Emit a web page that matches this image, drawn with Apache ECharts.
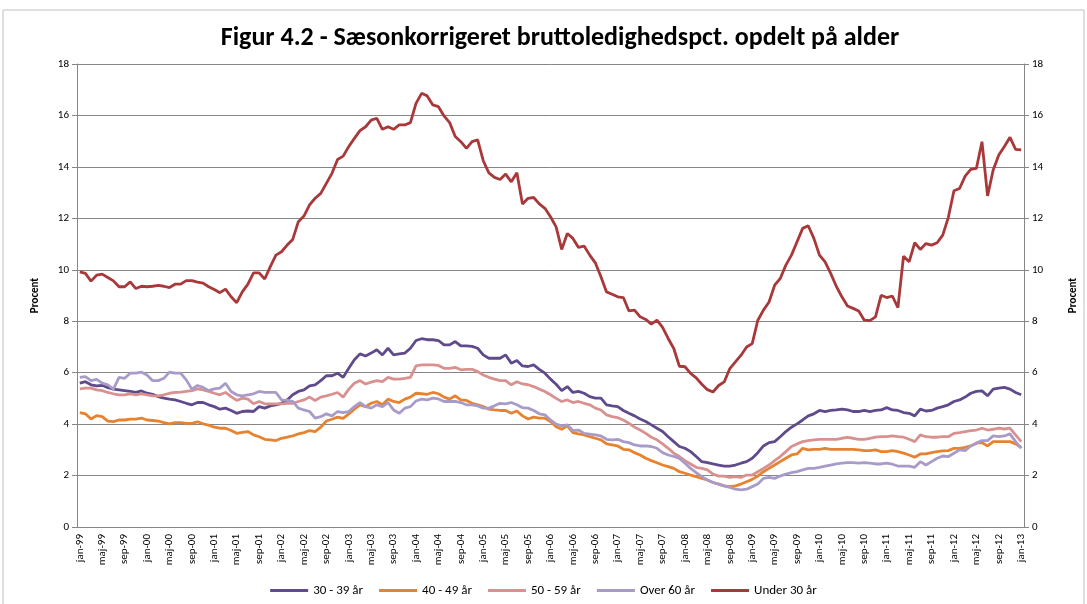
<!DOCTYPE html>
<html lang="da">
<head>
    <meta charset="UTF-8">
    <title>Figur 4.2</title>
    <script src="https://cdn.jsdelivr.net/npm/echarts@6/dist/echarts.min.js"></script>
    <style>
        html, body { margin: 0; padding: 0; background: #fff; }
        #chart { width: 1087px; height: 604px; }
    </style>
</head>
<body>
<div id="chart"></div>
<script type="text/javascript">
    // maanedlige tal jan-99 .. jan-13 (169 maaneder), aflaest fra figuren
    let monthNames = ['jan', 'feb', 'mar', 'apr', 'maj', 'jun', 'jul', 'aug', 'sep', 'okt', 'nov', 'dec'];
    let months = [];
    for (let y = 1999; y <= 2013; y++) {
        for (let m = 0; m < 12; m++) {
            if (y === 2013 && m > 0) break;
            months.push(monthNames[m] + '-' + String(y % 100).padStart(2, '0'));
        }
    }

    let age30to39 = [
        5.59, 5.65, 5.53, 5.49, 5.51, 5.42, 5.36, 5.33, 5.30, 5.27, 5.23, 5.29,
        5.20, 5.16, 5.07, 5.01, 4.97, 4.94, 4.88, 4.81, 4.75, 4.84, 4.84, 4.75,
        4.68, 4.58, 4.62, 4.53, 4.42, 4.49, 4.51, 4.49, 4.68, 4.62, 4.71, 4.75,
        4.81, 4.94, 5.14, 5.27, 5.33, 5.49, 5.53, 5.69, 5.88, 5.88, 5.98, 5.82,
        6.17, 6.50, 6.73, 6.65, 6.76, 6.89, 6.69, 6.95, 6.69, 6.73, 6.76, 6.95,
        7.25, 7.32, 7.28, 7.28, 7.25, 7.08, 7.08, 7.21, 7.04, 7.04, 7.02, 6.95,
        6.69, 6.56, 6.56, 6.56, 6.69, 6.37, 6.47, 6.26, 6.24, 6.30, 6.13, 5.98,
        5.75, 5.55, 5.30, 5.46, 5.23, 5.27, 5.20, 5.07, 5.01, 5.01, 4.75, 4.71,
        4.68, 4.53, 4.42, 4.32, 4.20, 4.10, 3.97, 3.84, 3.71, 3.51, 3.32, 3.13,
        3.06, 2.93, 2.74, 2.54, 2.50, 2.45, 2.41, 2.37, 2.37, 2.41, 2.48, 2.54,
        2.67, 2.89, 3.15, 3.28, 3.32, 3.51, 3.71, 3.88, 4.01, 4.16, 4.32, 4.40,
        4.53, 4.49, 4.53, 4.55, 4.58, 4.55, 4.49, 4.49, 4.53, 4.49, 4.53, 4.55,
        4.64, 4.55, 4.53, 4.45, 4.42, 4.32, 4.58, 4.51, 4.53, 4.62, 4.68, 4.75,
        4.88, 4.94, 5.05, 5.20, 5.27, 5.29, 5.10, 5.36, 5.40, 5.43, 5.36, 5.23,
        5.14
    ];

    let age40to49 = [
        4.45, 4.40, 4.20, 4.33, 4.29, 4.12, 4.10, 4.16, 4.16, 4.19, 4.19, 4.23,
        4.16, 4.14, 4.12, 4.06, 4.01, 4.06, 4.06, 4.03, 4.03, 4.09, 4.01, 3.96,
        3.88, 3.84, 3.84, 3.75, 3.64, 3.68, 3.71, 3.58, 3.51, 3.41, 3.39, 3.36,
        3.45, 3.49, 3.54, 3.62, 3.67, 3.75, 3.71, 3.88, 4.12, 4.19, 4.27, 4.22,
        4.40, 4.58, 4.75, 4.68, 4.81, 4.88, 4.75, 4.97, 4.88, 4.84, 4.97, 5.05,
        5.20, 5.18, 5.16, 5.23, 5.18, 5.05, 4.97, 5.10, 4.94, 4.92, 4.81, 4.75,
        4.68, 4.58, 4.55, 4.53, 4.53, 4.42, 4.51, 4.32, 4.20, 4.27, 4.23, 4.23,
        4.10, 3.90, 3.80, 3.93, 3.67, 3.62, 3.58, 3.51, 3.45, 3.39, 3.23, 3.19,
        3.15, 3.02, 3.00, 2.89, 2.80, 2.67, 2.58, 2.50, 2.41, 2.35, 2.28, 2.15,
        2.09, 2.02, 1.96, 1.89, 1.83, 1.73, 1.67, 1.60, 1.57, 1.60, 1.67, 1.76,
        1.85, 1.98, 2.15, 2.28, 2.41, 2.54, 2.67, 2.80, 2.84, 3.06, 3.00, 3.02,
        3.02, 3.06, 3.02, 3.02, 3.02, 3.02, 3.02, 3.00, 2.97, 2.97, 3.00, 2.93,
        2.93, 2.97, 2.93, 2.87, 2.80, 2.71, 2.84, 2.84, 2.89, 2.93, 2.96, 2.97,
        3.06, 3.06, 3.10, 3.15, 3.26, 3.28, 3.15, 3.32, 3.32, 3.32, 3.32, 3.23,
        3.10
    ];

    let age50to59 = [
        5.37, 5.40, 5.40, 5.33, 5.30, 5.23, 5.18, 5.14, 5.14, 5.18, 5.14, 5.18,
        5.14, 5.10, 5.10, 5.14, 5.20, 5.23, 5.24, 5.27, 5.30, 5.37, 5.33, 5.27,
        5.20, 5.14, 5.23, 5.07, 4.92, 5.01, 4.97, 4.79, 4.88, 4.79, 4.79, 4.79,
        4.79, 4.81, 4.81, 4.88, 4.94, 5.05, 4.92, 5.05, 5.10, 5.16, 5.23, 5.05,
        5.36, 5.59, 5.69, 5.56, 5.63, 5.69, 5.65, 5.82, 5.75, 5.75, 5.78, 5.82,
        6.26, 6.30, 6.30, 6.30, 6.28, 6.17, 6.17, 6.21, 6.11, 6.13, 6.13, 6.04,
        5.91, 5.82, 5.75, 5.69, 5.69, 5.53, 5.65, 5.56, 5.53, 5.46, 5.36, 5.27,
        5.14, 5.00, 4.88, 4.94, 4.84, 4.88, 4.81, 4.75, 4.62, 4.55, 4.36, 4.29,
        4.25, 4.16, 4.03, 3.88, 3.77, 3.64, 3.49, 3.39, 3.23, 3.06, 2.87, 2.74,
        2.58, 2.45, 2.32, 2.28, 2.22, 2.06, 1.98, 1.98, 1.93, 1.96, 1.93, 2.02,
        2.02, 2.15, 2.28, 2.41, 2.58, 2.74, 2.93, 3.13, 3.23, 3.32, 3.36, 3.39,
        3.41, 3.41, 3.41, 3.41, 3.45, 3.48, 3.45, 3.41, 3.41, 3.45, 3.49, 3.51,
        3.51, 3.54, 3.51, 3.49, 3.41, 3.32, 3.58, 3.51, 3.49, 3.49, 3.51, 3.51,
        3.64, 3.67, 3.71, 3.75, 3.77, 3.84, 3.77, 3.80, 3.84, 3.81, 3.84, 3.58,
        3.32
    ];

    let over60 = [
        5.82, 5.85, 5.69, 5.74, 5.59, 5.53, 5.36, 5.82, 5.78, 5.98, 5.98, 6.02,
        5.91, 5.69, 5.69, 5.78, 6.02, 5.98, 5.98, 5.72, 5.36, 5.50, 5.43, 5.30,
        5.37, 5.40, 5.59, 5.27, 5.14, 5.10, 5.14, 5.18, 5.27, 5.23, 5.23, 5.23,
        4.94, 4.92, 4.88, 4.62, 4.55, 4.49, 4.23, 4.29, 4.40, 4.32, 4.49, 4.45,
        4.49, 4.68, 4.84, 4.68, 4.62, 4.75, 4.68, 4.84, 4.55, 4.42, 4.62, 4.68,
        4.90, 4.97, 4.94, 5.01, 4.98, 4.88, 4.88, 4.88, 4.84, 4.75, 4.75, 4.71,
        4.62, 4.62, 4.71, 4.81, 4.79, 4.84, 4.75, 4.64, 4.62, 4.53, 4.40, 4.36,
        4.16, 4.00, 3.93, 3.97, 3.75, 3.77, 3.64, 3.61, 3.58, 3.54, 3.41, 3.39,
        3.41, 3.32, 3.28, 3.19, 3.15, 3.15, 3.13, 3.06, 2.89, 2.80, 2.74, 2.67,
        2.48, 2.28, 2.11, 1.96, 1.83, 1.73, 1.67, 1.60, 1.54, 1.47, 1.44, 1.47,
        1.57, 1.67, 1.89, 1.93, 1.89, 1.98, 2.06, 2.11, 2.15, 2.22, 2.28, 2.28,
        2.32, 2.37, 2.41, 2.45, 2.48, 2.50, 2.50, 2.48, 2.50, 2.48, 2.45, 2.45,
        2.48, 2.44, 2.37, 2.37, 2.37, 2.32, 2.54, 2.41, 2.54, 2.67, 2.76, 2.74,
        2.87, 3.00, 2.97, 3.15, 3.26, 3.36, 3.36, 3.54, 3.51, 3.54, 3.62, 3.32,
        3.06
    ];

    let under30 = [
        9.92, 9.86, 9.56, 9.79, 9.83, 9.70, 9.57, 9.34, 9.34, 9.53, 9.27, 9.36,
        9.34, 9.36, 9.39, 9.36, 9.31, 9.44, 9.44, 9.58, 9.58, 9.52, 9.48, 9.34,
        9.23, 9.11, 9.25, 8.95, 8.72, 9.14, 9.44, 9.88, 9.88, 9.64, 10.12, 10.57,
        10.70, 10.96, 11.18, 11.87, 12.09, 12.52, 12.78, 12.97, 13.36, 13.75, 14.29, 14.42,
        14.79, 15.11, 15.41, 15.56, 15.82, 15.89, 15.46, 15.56, 15.46, 15.63, 15.63, 15.72,
        16.47, 16.86, 16.76, 16.41, 16.34, 15.98, 15.72, 15.18, 14.98, 14.72, 14.98, 15.05,
        14.24, 13.77, 13.59, 13.51, 13.72, 13.42, 13.77, 12.56, 12.78, 12.81, 12.56, 12.39,
        12.06, 11.67, 10.79, 11.41, 11.22, 10.87, 10.92, 10.57, 10.27, 9.73, 9.14, 9.05,
        8.95, 8.92, 8.40, 8.43, 8.17, 8.07, 7.89, 8.04, 7.76, 7.33, 6.94, 6.25,
        6.23, 5.97, 5.80, 5.55, 5.34, 5.25, 5.50, 5.64, 6.16, 6.42, 6.68, 7.00,
        7.13, 8.04, 8.43, 8.75, 9.40, 9.66, 10.18, 10.57, 11.09, 11.61, 11.71, 11.22,
        10.57, 10.31, 9.86, 9.36, 8.95, 8.59, 8.50, 8.40, 8.04, 8.02, 8.17, 9.01,
        8.92, 8.98, 8.53, 10.53, 10.31, 11.05, 10.79, 11.02, 10.96, 11.05, 11.35, 12.04,
        13.07, 13.16, 13.64, 13.90, 13.94, 14.98, 12.87, 13.88, 14.46, 14.79, 15.15, 14.68,
        14.66
    ];

    let seriesNames = ['30 - 39 år', '40 - 49 år', '50 - 59 år', 'Over 60 år', 'Under 30 år'];
    let seriesData = [age30to39, age40to49, age50to59, over60, under30];
    let seriesColors = ['#5f4a8b', '#e7822f', '#d9918f', '#a99bc9', '#a9383a'];

    let fontFam = "Carlito, Calibri, 'Open Sans', sans-serif";

    let yAxisBase = {
        type: 'value',
        min: 0,
        max: 18,
        interval: 2,
        name: 'Procent',
        nameLocation: 'middle',
        nameRotate: 90,
        nameTextStyle: { color: '#000', fontSize: 11, fontWeight: 'bold', fontFamily: fontFam },
        axisLine: { show: true, lineStyle: { color: '#868686' } },
        axisTick: { show: true, length: 5, lineStyle: { color: '#868686' } },
        axisLabel: { color: '#000', fontSize: 11, fontFamily: fontFam }
    };

    let chart = echarts.init(document.getElementById('chart'));
    chart.setOption({
        animation: false,
        backgroundColor: '#fff',
        title: {
            text: 'Figur 4.2 - Sæsonkorrigeret bruttoledighedspct. opdelt på alder',
            left: 555,
            textAlign: 'center',
            top: 20,
            textStyle: { color: '#000', fontSize: 26, fontWeight: 'bold', fontFamily: fontFam }
        },
        graphic: [{
            type: 'rect',
            shape: { x: 3, y: 10, width: 1081, height: 600 },
            style: { fill: 'none', stroke: '#bfbfbf', lineWidth: 1 },
            silent: true
        }],
        legend: {
            bottom: 2,
            left: 'center',
            icon: 'rect',
            itemWidth: 38,
            itemHeight: 3,
            itemGap: 16,
            textStyle: { color: '#000', fontSize: 13, fontFamily: fontFam },
            data: seriesNames
        },
        grid: { left: 77, right: 59, top: 64, bottom: 77 },
        xAxis: {
            type: 'category',
            data: months,
            boundaryGap: true,
            axisLine: { lineStyle: { color: '#868686' } },
            axisTick: { interval: 3, length: 5, lineStyle: { color: '#868686' } },
            axisLabel: { interval: 3, rotate: 90, color: '#000', fontSize: 11, fontFamily: fontFam, margin: 7 }
        },
        yAxis: [
            Object.assign({}, yAxisBase, {
                position: 'left',
                nameGap: 36,
                splitLine: { show: true, lineStyle: { color: '#868686', width: 1 } }
            }),
            Object.assign({}, yAxisBase, {
                position: 'right',
                nameGap: 44,
                splitLine: { show: false }
            })
        ],
        series: seriesNames.map(function (name, k) {
            return {
                name: name,
                type: 'line',
                data: seriesData[k],
                showSymbol: false,
                symbol: 'none',
                color: seriesColors[k],
                lineStyle: { width: 2.8, color: seriesColors[k] },
                z: k === 4 ? 3 : 2
            };
        })
    });
</script>
</body>
</html>
